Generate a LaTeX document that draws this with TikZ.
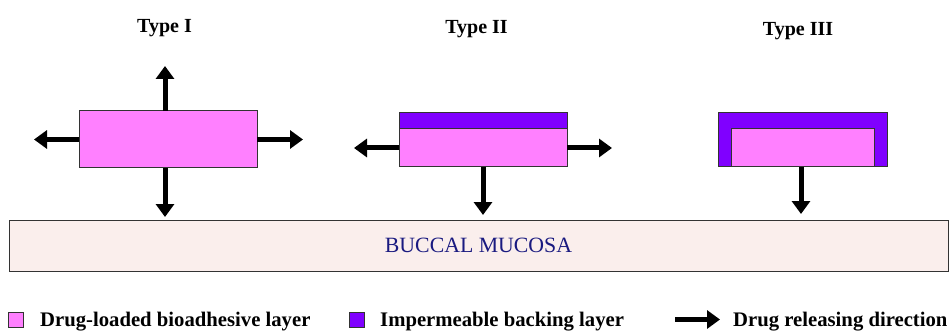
\documentclass[tikz,border=0pt]{standalone}
\usepackage{fontspec}
\setmainfont{Liberation Serif}
\usetikzlibrary{arrows.meta, positioning}
\definecolor{drugfill}{HTML}{FF80FF}
\definecolor{backfill}{HTML}{8000FF}
\definecolor{mucfill}{HTML}{FAEEEC}
\definecolor{muctext}{HTML}{1A1A80}
\definecolor{edgegray}{HTML}{333333}
\tikzset{
  lay/.style={rectangle, draw=edgegray, line width=1pt, inner sep=0pt, outer sep=0pt},
  drug/.style={lay, fill=drugfill},
  back/.style={lay, fill=backfill},
  muc/.style={lay, fill=mucfill, minimum width=939pt, minimum height=51pt, font=\fontsize{21.8}{24}\selectfont, text=muctext},
  ttl/.style={font=\fontsize{20}{22}\selectfont\bfseries, anchor=base, inner sep=0pt},
  key/.style={lay, minimum width=15pt, minimum height=15pt},
  keytxt/.style={font=\fontsize{20.7}{23}\selectfont\bfseries, anchor=base west, inner sep=0pt},
  rel/.style={-{Triangle[length=13pt, width=18pt]}, line width=5pt, draw=black},
}

\begin{document}
\begin{tikzpicture}[x=1pt, y=-1pt]
  \fill[white] (0,0) rectangle (949,331);
  \useasboundingbox (0,0) rectangle (949,331);
  % titles
  \node[ttl] (t1) at (164.5,33) {Type I};
  \node[ttl] (t2) at (476.5,34) {Type II};
  \node[ttl] (t3) at (798,35.5) {Type III};
  % mucosa
  \node[muc] (muc) at (478.5,245.5) {BUCCAL MUCOSA};
  % type I
  \node[drug, minimum width=178pt, minimum height=57pt] (d1) at (168,139.5) {};
  % type II
  \node[back, minimum width=168pt, minimum height=16pt] (b2) at (483,121) {};
  \node[drug, minimum width=168pt, minimum height=38pt, below=0pt of b2] (d2) {};
  % type III
  \node[back, minimum width=169pt, minimum height=54pt] (b3) at (802.5,140) {};
  \node[drug, minimum width=143pt, minimum height=38pt, anchor=south] (d3) at (b3.south) {};
  % release directions
  \coordinate[above=45pt of d1.north, xshift=-3pt] (u1);
  \coordinate[left=45pt of d1.west] (l1);
  \coordinate[right=46pt of d1.east] (r1);
  \coordinate[below=49pt of d1.south, xshift=-3pt] (s1);
  \coordinate[left=45pt of d2.west] (l2);
  \coordinate[right=45pt of d2.east] (r2);
  \coordinate[below=48pt of d2.south] (s2);
  \coordinate[below=47pt of d3.south, xshift=-1.5pt] (s3);
  \draw[rel] (d1.north -| u1) -- (u1);
  \draw[rel] (d1.west) -- (l1);
  \draw[rel] (d1.east) -- (r1);
  \draw[rel] (d1.south -| s1) -- (s1);
  \draw[rel] (d2.west) -- (l2);
  \draw[rel] (d2.east) -- (r2);
  \draw[rel] (d2.south) -- (s2);
  \draw[rel] (d3.south -| s3) -- (s3);
  % legend
  \node[key, fill=drugfill] (k1) at (16,319.5) {};
  \node[keytxt] (k1t) at (40,326) {Drug-loaded bioadhesive layer};
  \node[key, fill=backfill] (k2) at (357,319.5) {};
  \node[keytxt] (k2t) at (380,326) {Impermeable backing layer};
  \coordinate (ka) at (675,319.5);
  \coordinate (kb) at (720,319.5);
  \draw[rel] (ka) -- (kb);
  \node[keytxt] (k3t) at (733,326) {Drug releasing direction};
\end{tikzpicture}
\end{document}
